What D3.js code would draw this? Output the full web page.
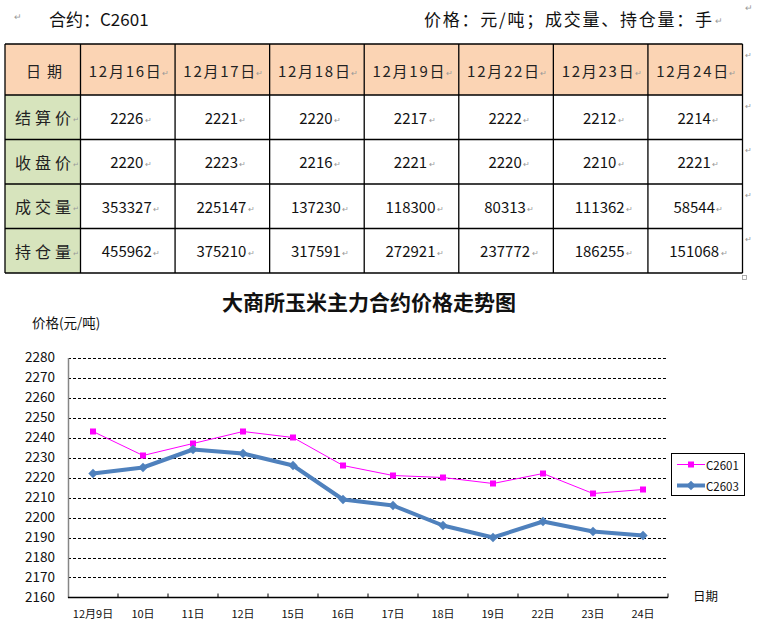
<!DOCTYPE html>
<html>
<head>
<meta charset="utf-8">
<script src="https://cdn.jsdelivr.net/npm/d3@7"></script>
<style>
  body { margin: 0; background: #fff; }
  svg text { font-family: "Noto Sans CJK SC", "Liberation Sans", sans-serif; }
</style>
</head>
<body>
<div id="chart"></div>
<script>
// table data
const tableDates = ["12月16日", "12月17日", "12月18日", "12月19日", "12月22日", "12月23日", "12月24日"];
const rowLabels = ["结算价", "收盘价", "成交量", "持仓量"];
const settlePrice = [2226, 2221, 2220, 2217, 2222, 2212, 2214];
const closePrice = [2220, 2223, 2216, 2221, 2220, 2210, 2221];
const volume = [353327, 225147, 137230, 118300, 80313, 111362, 58544];
const openInterest = [455962, 375210, 317591, 272921, 237772, 186255, 151068];

// chart data
const chartDates = ["12月9日", "10日", "11日", "12日", "15日", "16日", "17日", "18日", "19日", "22日", "23日", "24日"];
const c2601 = [2243, 2231, 2237, 2243, 2240, 2226, 2221, 2220, 2217, 2222, 2212, 2214];
const c2603 = [2222, 2225, 2234, 2232, 2226, 2209, 2206, 2196, 2190, 2198, 2193, 2191];
const yTicks = [2160, 2170, 2180, 2190, 2200, 2210, 2220, 2230, 2240, 2250, 2260, 2270, 2280];

const W = 757, H = 633;
const RET = "\u21B5";

const svg = d3.select("#chart").append("svg")
  .attr("width", W)
  .attr("height", H);

// ---------- header line ----------
svg.append("text")
  .attr("x", 14).attr("y", 16)
  .attr("dominant-baseline", "central")
  .attr("font-size", 9).attr("fill", "#999")
  .text(RET);

svg.append("text")
  .attr("x", 49).attr("y", 18)
  .attr("dominant-baseline", "central")
  .attr("font-size", 17).attr("fill", "#111")
  .text("合约：C2601");

svg.append("text")
  .attr("x", 424).attr("y", 18)
  .attr("dominant-baseline", "central")
  .attr("font-size", 17).attr("fill", "#111")
  .attr("textLength", 288).attr("lengthAdjust", "spacing")
  .text("价格：元/吨；成交量、持仓量：手");

svg.append("text")
  .attr("x", 715).attr("y", 20)
  .attr("dominant-baseline", "central")
  .attr("font-size", 9).attr("fill", "#999")
  .text(RET);

svg.append("text")
  .attr("x", 745).attr("y", 7)
  .attr("dominant-baseline", "central")
  .attr("font-size", 9).attr("fill", "#999")
  .text(RET);

// ---------- table ----------
const tableLeft = 5, firstColRight = 80.5, tableRight = 742.5;
const headTop = 44, headBottom = 95, tableBottom = 273;

const colX = d3.scaleBand()
  .domain(tableDates)
  .range([firstColRight, tableRight]);

const rowY = d3.scaleBand()
  .domain(rowLabels)
  .range([headBottom, tableBottom]);

const rows = [settlePrice, closePrice, volume, openInterest];

const table = svg.append("g").attr("class", "table");

// header row
table.append("rect")
  .attr("x", tableLeft).attr("y", headTop)
  .attr("width", firstColRight - tableLeft).attr("height", headBottom - headTop)
  .attr("fill", "#fbd4b4");

table.selectAll("rect.head")
  .data(tableDates)
  .enter()
  .append("rect")
  .attr("class", "head")
  .attr("x", d => colX(d)).attr("y", headTop)
  .attr("width", colX.bandwidth()).attr("height", headBottom - headTop)
  .attr("fill", "#fbd4b4");

// first column
table.selectAll("rect.label")
  .data(rowLabels)
  .enter()
  .append("rect")
  .attr("class", "label")
  .attr("x", tableLeft).attr("y", d => rowY(d))
  .attr("width", firstColRight - tableLeft).attr("height", rowY.bandwidth())
  .attr("fill", "#d7e4bd");

// grid lines of the table
const tableLines = table.append("g")
  .attr("stroke", "#000")
  .attr("stroke-width", 1.3);

[headTop, ...rowLabels.map(d => rowY(d)), tableBottom].forEach(yy => {
  tableLines.append("line")
    .attr("x1", tableLeft).attr("x2", tableRight)
    .attr("y1", yy).attr("y2", yy);
});
[tableLeft, ...tableDates.map(d => colX(d)), tableRight].forEach(xx => {
  tableLines.append("line")
    .attr("x1", xx).attr("x2", xx)
    .attr("y1", headTop).attr("y2", tableBottom);
});

// header texts
table.append("text")
  .attr("x", 26)
  .attr("y", (headTop + headBottom) / 2 + 1)
  .attr("dominant-baseline", "central")
  .attr("font-size", 15)
  .attr("textLength", 36).attr("lengthAdjust", "spacing")
  .attr("fill", "#222")
  .text("日期");

const headText = table.selectAll("g.headtext")
  .data(tableDates)
  .enter()
  .append("g")
  .attr("class", "headtext");

headText.append("text")
  .attr("x", d => colX(d) + colX.bandwidth() / 2 - 3)
  .attr("y", (headTop + headBottom) / 2 + 1)
  .attr("text-anchor", "middle")
  .attr("dominant-baseline", "central")
  .attr("font-size", 15)
  .attr("textLength", 72).attr("lengthAdjust", "spacing")
  .attr("fill", "#222")
  .text(d => d);

headText.append("text")
  .attr("x", d => colX(d) + colX.bandwidth() / 2 + 34)
  .attr("y", (headTop + headBottom) / 2 + 3)
  .attr("dominant-baseline", "central")
  .attr("font-size", 8).attr("fill", "#999")
  .text(RET);

// row labels
const labelText = table.selectAll("g.labeltext")
  .data(rowLabels)
  .enter()
  .append("g")
  .attr("class", "labeltext");

labelText.append("text")
  .attr("x", 15)
  .attr("y", d => rowY(d) + rowY.bandwidth() / 2)
  .attr("dominant-baseline", "central")
  .attr("font-size", 16)
  .attr("textLength", 56).attr("lengthAdjust", "spacing")
  .attr("fill", "#222")
  .text(d => d);

labelText.append("text")
  .attr("x", 73)
  .attr("y", d => rowY(d) + rowY.bandwidth() / 2 + 2)
  .attr("dominant-baseline", "central")
  .attr("font-size", 7).attr("fill", "#999")
  .text(RET);

// values
rows.forEach((vals, i) => {
  const ry = rowY(rowLabels[i]) + rowY.bandwidth() / 2;
  const g = table.append("g");
  g.selectAll("text.val")
    .data(vals)
    .enter()
    .append("text")
    .attr("class", "val")
    .attr("x", (d, j) => colX(tableDates[j]) + colX.bandwidth() / 2 - 1)
    .attr("y", ry)
    .attr("text-anchor", "middle")
    .attr("dominant-baseline", "central")
    .attr("font-family", "Liberation Sans, sans-serif")
    .attr("font-size", 15)
    .attr("fill", "#111")
    .text(d => d);
  g.selectAll("text.ret")
    .data(vals)
    .enter()
    .append("text")
    .attr("class", "ret")
    .attr("x", (d, j) => colX(tableDates[j]) + colX.bandwidth() / 2 - 1 + String(d).length * 4.25 + 1)
    .attr("y", ry + 2)
    .attr("dominant-baseline", "central")
    .attr("font-size", 8).attr("fill", "#999")
    .text(RET);
});

// paragraph marks right of table
[headTop, ...rowLabels.map(d => rowY(d))].forEach(yy => {
  table.append("text")
    .attr("x", 745).attr("y", yy + 10)
    .attr("dominant-baseline", "central")
    .attr("font-size", 8).attr("fill", "#999")
    .text(RET);
});

table.append("rect")
  .attr("x", 742.5).attr("y", 275.5)
  .attr("width", 4).attr("height", 4)
  .attr("fill", "none").attr("stroke", "#999").attr("stroke-width", 0.8);

// ---------- chart ----------
const plotLeft = 68, plotRight = 668, plotTop = 357.5, plotBottom = 597.5;

const x = d3.scaleBand()
  .domain(chartDates)
  .range([plotLeft, plotRight]);

const y = d3.scaleLinear()
  .domain([2160, 2280])
  .range([plotBottom, plotTop]);

const cx = d => x(d) + x.bandwidth() / 2;

svg.append("text")
  .attr("x", 369).attr("y", 301)
  .attr("text-anchor", "middle")
  .attr("dominant-baseline", "central")
  .attr("font-size", 21)
  .attr("font-weight", "bold")
  .attr("fill", "#111")
  .text("大商所玉米主力合约价格走势图");

svg.append("text")
  .attr("x", 32).attr("y", 322)
  .attr("dominant-baseline", "central")
  .attr("font-size", 13.5)
  .attr("fill", "#111")
  .text("价格(元/吨)");

// gridlines
svg.append("g")
  .selectAll("line")
  .data(yTicks.filter(t => t > 2160))
  .enter()
  .append("line")
  .attr("x1", plotLeft).attr("x2", plotRight)
  .attr("y1", d => Math.round(y(d)) + 0.5)
  .attr("y2", d => Math.round(y(d)) + 0.5)
  .attr("stroke", "#000")
  .attr("stroke-width", 1)
  .attr("stroke-dasharray", "3,2");

// y axis
const yAxis = svg.append("g")
  .attr("transform", `translate(${plotLeft},0)`)
  .call(d3.axisLeft(y).tickValues(yTicks).tickSize(0).tickPadding(13).tickFormat(d3.format("d")));

yAxis.select(".domain").attr("stroke", "#868686").attr("stroke-width", 1.5);
yAxis.selectAll("text")
  .attr("font-family", "Liberation Sans, sans-serif")
  .attr("font-size", 13.5)
  .attr("fill", "#111");

// x axis
svg.append("line")
  .attr("x1", plotLeft).attr("x2", plotRight)
  .attr("y1", plotBottom).attr("y2", plotBottom)
  .attr("stroke", "#000").attr("stroke-width", 1.3);

svg.append("g")
  .selectAll("line")
  .data(chartDates)
  .enter()
  .append("line")
  .attr("x1", d => x(d) + x.bandwidth()).attr("x2", d => x(d) + x.bandwidth())
  .attr("y1", plotBottom - 4).attr("y2", plotBottom)
  .attr("stroke", "#000").attr("stroke-width", 1);

svg.append("g")
  .selectAll("text")
  .data(chartDates)
  .enter()
  .append("text")
  .attr("x", cx)
  .attr("y", 613)
  .attr("text-anchor", "middle")
  .attr("dominant-baseline", "central")
  .attr("font-size", 11)
  .attr("fill", "#111")
  .text(d => d);

svg.append("text")
  .attr("x", 693).attr("y", 595)
  .attr("dominant-baseline", "central")
  .attr("font-size", 12.5)
  .attr("fill", "#111")
  .text("日期");

// series
const line = d3.line()
  .x((d, i) => cx(chartDates[i]))
  .y(d => y(d));

svg.append("path")
  .datum(c2601)
  .attr("d", line)
  .attr("fill", "none")
  .attr("stroke", "#ff00ff")
  .attr("stroke-width", 1);

svg.append("g")
  .selectAll("rect")
  .data(c2601)
  .enter()
  .append("rect")
  .attr("x", (d, i) => cx(chartDates[i]) - 3)
  .attr("y", d => y(d) - 3)
  .attr("width", 6).attr("height", 6)
  .attr("fill", "#ff00ff");

svg.append("path")
  .datum(c2603)
  .attr("d", line)
  .attr("fill", "none")
  .attr("stroke", "#4f81bd")
  .attr("stroke-width", 4)
  .attr("stroke-linejoin", "round");

const diamond = d3.symbol().type(d3.symbolSquare).size(44);

svg.append("g")
  .selectAll("path")
  .data(c2603)
  .enter()
  .append("path")
  .attr("d", diamond)
  .attr("transform", (d, i) => `translate(${cx(chartDates[i])},${y(d)}) rotate(45)`)
  .attr("fill", "#4f81bd");

// legend
const legend = svg.append("g");
legend.append("rect")
  .attr("x", 671.5).attr("y", 453.5)
  .attr("width", 73).attr("height", 42)
  .attr("fill", "#fff")
  .attr("stroke", "#000").attr("stroke-width", 1);

const legendItems = [
  { name: "C2601", color: "#ff00ff", width: 1, marker: "square" },
  { name: "C2603", color: "#4f81bd", width: 4, marker: "diamond" }
];

legendItems.forEach((item, i) => {
  const ly = 464.5 + i * 21;
  legend.append("line")
    .attr("x1", 677).attr("x2", 705)
    .attr("y1", ly).attr("y2", ly)
    .attr("stroke", item.color).attr("stroke-width", item.width);
  if (item.marker === "square") {
    legend.append("rect")
      .attr("x", 688).attr("y", ly - 3)
      .attr("width", 6).attr("height", 6)
      .attr("fill", item.color);
  } else {
    legend.append("path")
      .attr("d", diamond)
      .attr("transform", `translate(691,${ly}) rotate(45)`)
      .attr("fill", item.color);
  }
  legend.append("text")
    .attr("x", 706).attr("y", ly)
    .attr("dominant-baseline", "central")
    .attr("font-family", "Liberation Sans, sans-serif")
    .attr("font-size", 11.5)
    .attr("fill", "#111")
    .text(item.name);
});
</script>
</body>
</html>
